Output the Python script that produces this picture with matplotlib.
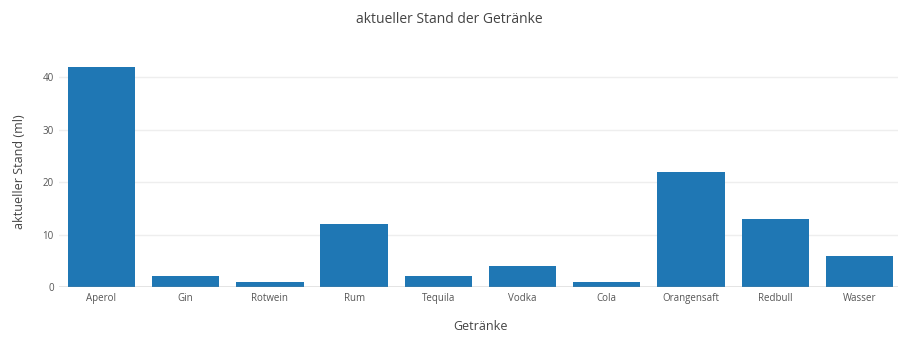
import matplotlib.pyplot as plt

getraenke = ['Aperol', 'Gin', 'Rotwein', 'Rum', 'Tequila', 'Vodka', 'Cola',
             'Orangensaft', 'Redbull', 'Wasser']
stand = [42, 2, 1, 12, 2, 4, 1, 22, 13, 6]
y_ticks = [0, 10, 20, 30, 40]

plt.rcParams['font.family'] = ['Open Sans', 'DejaVu Sans']

fig = plt.figure(figsize=(8.98, 3.38), dpi=100)
ax = fig.add_axes([0.066, 0.151, 0.938, 0.685])

ax.bar(range(len(getraenke)), stand, width=0.8, color='#1f77b4', zorder=3)
ax.set_xlim(-0.5, len(getraenke) - 0.5)
ax.set_ylim(0, 44.2)
ax.set_xticks(range(len(getraenke)))
ax.set_xticklabels(getraenke)
ax.set_yticks(y_ticks)

ax.grid(axis='y', color='#eeeeee', linewidth=1, zorder=0)
ax.axhline(0, color='#888888', linewidth=1, zorder=4)
for s in ax.spines.values():
    s.set_visible(False)
ax.tick_params(axis='both', length=0, labelsize=7, colors='#555555', pad=4)

ax.set_xlabel('Getränke', fontsize=9, color='#444444', labelpad=12)
ax.set_ylabel('aktueller Stand (ml)', fontsize=9, color='#444444', labelpad=12)
fig.suptitle('aktueller Stand der Getränke', fontsize=10, color='#444444', y=0.965)

fig.savefig('out.png', dpi=100, facecolor='white')
